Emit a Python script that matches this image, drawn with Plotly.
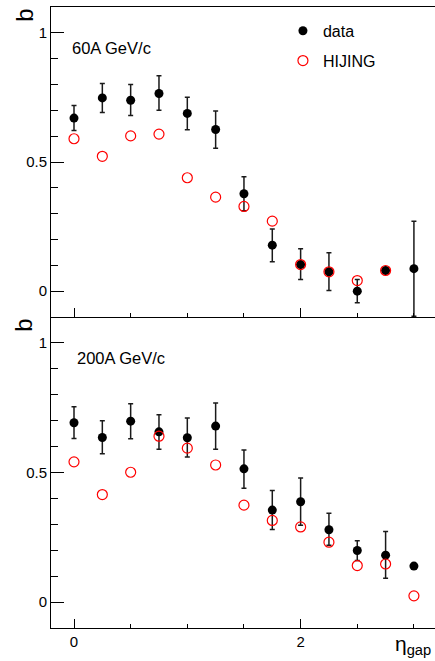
import plotly.graph_objects as go

eta = [0.0, 0.25, 0.5, 0.75, 1.0, 1.25, 1.5, 1.75, 2.0, 2.25, 2.5, 2.75, 3.0]

# 60A GeV/c
b60_data = [0.670, 0.748, 0.739, 0.765, 0.688, 0.626, 0.377, 0.178, 0.103, 0.075, 0.000, 0.080, 0.087]
b60_err_up = [0.049, 0.056, 0.061, 0.069, 0.063, 0.071, 0.066, 0.063, 0.061, 0.074, 0.045, 0.0, 0.184]
b60_err_dn = [0.048, 0.056, 0.059, 0.065, 0.063, 0.073, 0.066, 0.064, 0.058, 0.072, 0.045, 0.0, 0.184]
eta60_hij = eta[:12]
b60_hij = [0.590, 0.522, 0.601, 0.608, 0.439, 0.364, 0.328, 0.271, 0.103, 0.075, 0.041, 0.080]

# 200A GeV/c
b200_data = [0.692, 0.635, 0.698, 0.657, 0.634, 0.679, 0.514, 0.355, 0.387, 0.279, 0.199, 0.181, 0.139]
b200_err_up = [0.062, 0.065, 0.067, 0.066, 0.076, 0.089, 0.073, 0.076, 0.092, 0.064, 0.038, 0.091, 0.0]
b200_err_dn = [0.061, 0.063, 0.068, 0.067, 0.074, 0.089, 0.075, 0.075, 0.091, 0.060, 0.039, 0.089, 0.0]
b200_hij = [0.541, 0.415, 0.501, 0.640, 0.594, 0.529, 0.374, 0.315, 0.290, 0.231, 0.141, 0.147, 0.024]

FONT = "Liberation Sans, Arial, sans-serif"
RED = "#ff0000"

def err(up, dn):
    return dict(type="data", symmetric=False, array=up, arrayminus=dn,
                color="#1a1a1a", thickness=1.5, width=2.5)

fig = go.Figure()
# top panel (60A)
fig.add_trace(go.Scatter(x=eta, y=b60_data, mode="markers", name="data",
                         xaxis="x2", yaxis="y2", legendgroup="a",
                         marker=dict(symbol="circle", size=9, color="black"),
                         error_y=err(b60_err_up, b60_err_dn)))
fig.add_trace(go.Scatter(x=eta60_hij, y=b60_hij, mode="markers", name="HIJING",
                         xaxis="x2", yaxis="y2", legendgroup="b",
                         marker=dict(symbol="circle-open", size=10, color=RED,
                                     line=dict(color=RED, width=1.2))))
# bottom panel (200A)
fig.add_trace(go.Scatter(x=eta, y=b200_data, mode="markers", name="data",
                         xaxis="x", yaxis="y", showlegend=False,
                         marker=dict(symbol="circle", size=9, color="black"),
                         error_y=err(b200_err_up, b200_err_dn)))
fig.add_trace(go.Scatter(x=eta, y=b200_hij, mode="markers", name="HIJING",
                         xaxis="x", yaxis="y", showlegend=False,
                         marker=dict(symbol="circle-open", size=10, color=RED,
                                     line=dict(color=RED, width=1.2))))

split = 311 / 621
xr = [-0.203, 3.186]
yr = [-0.1, 1.1]

xcommon = dict(range=xr, showgrid=False, zeroline=False, showline=True,
               linecolor="black", linewidth=1, ticks="inside", tick0=0, dtick=2,
               ticklen=9, tickwidth=1, tickcolor="black",
               minor=dict(dtick=0.5, ticklen=4, ticks="inside", tickcolor="black", tickwidth=1),
               tickfont=dict(family=FONT, size=15, color="black"))
ycommon = dict(range=yr, showgrid=False, zeroline=False, showline=True,
               linecolor="black", linewidth=1, ticks="inside", tick0=0, dtick=0.5,
               ticklen=13, tickwidth=1, tickcolor="black",
               minor=dict(dtick=0.1, ticklen=7, ticks="inside", tickcolor="black", tickwidth=1),
               tickfont=dict(family=FONT, size=15, color="black"),
               tickvals=[0, 0.5, 1], ticktext=["0", "0.5", "1"])

fig.update_layout(
    width=435, height=661,
    margin=dict(l=51, r=0, t=7, b=33),
    plot_bgcolor="white", paper_bgcolor="white",
    xaxis=dict(**xcommon, anchor="y", domain=[0, 1]),
    xaxis2=dict(**xcommon, anchor="y2", domain=[0, 1], showticklabels=False, mirror=True),
    yaxis=dict(**ycommon, anchor="x", domain=[0, split]),
    yaxis2=dict(**ycommon, anchor="x2", domain=[split, 1]),
    showlegend=True,
    legend=dict(x=0.604, y=0.989, xanchor="left", yanchor="top",
                bgcolor="rgba(0,0,0,0)", tracegroupgap=6,
                font=dict(family=FONT, size=16, color="black")),
    font=dict(family=FONT, color="black"),
)

ann = [
    dict(text="b", x=-0.071, y=0.987, textangle=-90, font=dict(size=24)),
    dict(text="b", x=-0.071, y=0.488, textangle=-90, font=dict(size=24)),
    dict(text="60A GeV/c", x=0.05, y=0.934, xanchor="left", font=dict(size=16.5)),
    dict(text="200A GeV/c", x=0.062, y=0.435, xanchor="left", font=dict(size=16.5)),
    dict(text="η<sub>gap</sub>", x=0.89, y=-0.028, xanchor="left", font=dict(size=21)),
]
for a in ann:
    a.setdefault("xanchor", "center")
    a.update(xref="paper", yref="paper", yanchor="middle", showarrow=False)
    a["font"] = dict(family=FONT, color="black", **a["font"])
    fig.add_annotation(**a)

fig.write_html("out.html", config={"displayModeBar": False},
               post_script="document.body.style.margin='0px';document.body.style.overflow='hidden';")
